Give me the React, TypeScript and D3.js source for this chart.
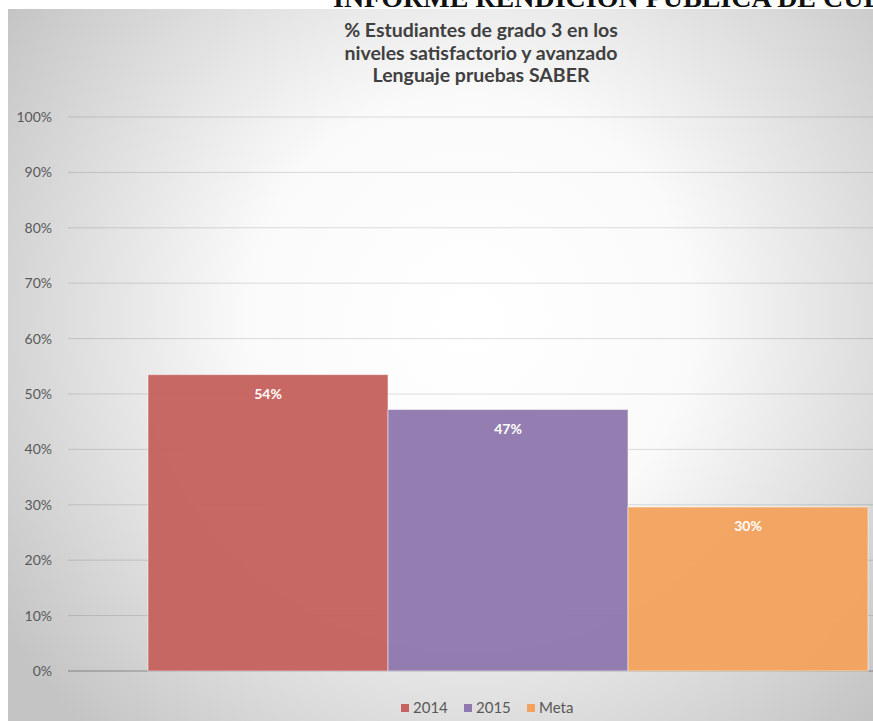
import React, { useEffect, useRef } from 'react';
import * as d3 from 'd3';

const series = ['2014', '2015', 'Meta'];
const values = [53.5, 47.2, 29.6];
const colors = ['#c6625f', '#9079ae', '#f4a25e'];
const yTicks = [0, 10, 20, 30, 40, 50, 60, 70, 80, 90, 100];
const titleLines = [
    '% Estudiantes de grado 3 en los',
    'niveles satisfactorio y avanzado',
    'Lenguaje pruebas SABER',
];
const headerText = 'INFORME RENDICIÓN PÚBLICA DE CUENTAS';

const App = () => {
    const svgRef = useRef<SVGSVGElement | null>(null);

    useEffect(() => {
        const width = 873;
        const height = 721;
        const plot = { left: 68, right: 948, top: 117, bottom: 671 };
        const font = 'Lato, "Open Sans", sans-serif';

        const svg = d3.select(svgRef.current);
        svg.selectAll('*').remove();
        svg.attr('width', width).attr('height', height);

        svg.append('rect').attr('width', width).attr('height', height).attr('fill', '#fff');

        // radial background of the chart area
        const grad = svg.append('defs').append('radialGradient')
            .attr('id', 'bg')
            .attr('gradientUnits', 'userSpaceOnUse')
            .attr('cx', 470).attr('cy', 320).attr('r', 560);
        grad.append('stop').attr('offset', 0).attr('stop-color', '#ffffff');
        grad.append('stop').attr('offset', 0.4).attr('stop-color', '#fafafa');
        grad.append('stop').attr('offset', 1).attr('stop-color', '#c4c4c4');

        svg.append('rect')
            .attr('x', 8).attr('y', 9)
            .attr('width', width - 8).attr('height', height - 9)
            .attr('fill', 'url(#bg)');

        // page header, cut by the top edge as in the scan
        svg.append('text')
            .attr('x', 333).attr('y', 7)
            .attr('font-family', '"Liberation Serif", serif')
            .attr('font-weight', 'bold')
            .attr('font-size', 28)
            .attr('fill', '#111')
            .text(headerText);

        // title
        svg.append('g').selectAll('text')
            .data(titleLines)
            .enter()
            .append('text')
            .attr('x', 481)
            .attr('y', (d, i) => 37 + i * 22.5)
            .attr('text-anchor', 'middle')
            .attr('font-family', font)
            .attr('font-weight', 'bold')
            .attr('font-size', 19.5)
            .attr('fill', '#404040')
            .text(d => d);

        const y = d3.scaleLinear().domain([0, 100]).range([plot.bottom, plot.top]);
        const x0 = d3.scaleBand<string>()
            .domain([''])
            .range([plot.left, plot.right])
            .paddingInner(0)
            .paddingOuter(80 / 720);
        const x1 = d3.scaleBand<string>()
            .domain(series)
            .range([0, x0.bandwidth()])
            .padding(0);

        // gridlines
        svg.append('g').selectAll('line')
            .data(yTicks)
            .enter()
            .append('line')
            .attr('x1', plot.left).attr('x2', width)
            .attr('y1', d => y(d)).attr('y2', d => y(d))
            .attr('stroke', '#000')
            .attr('stroke-opacity', d => (d === 0 ? 0.35 : 0.13))
            .attr('stroke-width', 1);

        // tick labels
        svg.append('g').selectAll('text')
            .data(yTicks)
            .enter()
            .append('text')
            .attr('x', 52)
            .attr('y', d => y(d))
            .attr('dy', '0.35em')
            .attr('text-anchor', 'end')
            .attr('font-family', font)
            .attr('font-size', 14)
            .attr('fill', '#595959')
            .text(d => `${d}%`);

        // bars
        const gx = x0('') as number;
        svg.append('g').selectAll('rect')
            .data(values)
            .enter()
            .append('rect')
            .attr('x', (d, i) => gx + (x1(series[i]) as number))
            .attr('y', d => y(d))
            .attr('width', x1.bandwidth())
            .attr('height', d => y(0) - y(d))
            .attr('fill', (d, i) => colors[i])
            .attr('fill-opacity', 0.96)
            .attr('stroke', '#fff')
            .attr('stroke-opacity', 0.5)
            .attr('stroke-width', 1);

        // value labels
        svg.append('g').selectAll('text')
            .data(values)
            .enter()
            .append('text')
            .attr('x', (d, i) => gx + (x1(series[i]) as number) + x1.bandwidth() / 2)
            .attr('y', d => y(d) + 24)
            .attr('text-anchor', 'middle')
            .attr('font-family', font)
            .attr('font-weight', 'bold')
            .attr('font-size', 14)
            .attr('fill', '#fff')
            .text(d => `${Math.round(d)}%`);

        // legend
        const legendX = [401, 464, 527];
        const lg = svg.append('g').selectAll('g')
            .data(series)
            .enter()
            .append('g')
            .attr('transform', (d, i) => `translate(${legendX[i]},708)`);
        lg.append('rect')
            .attr('x', 0).attr('y', -4)
            .attr('width', 8).attr('height', 8)
            .attr('fill', (d, i) => colors[i]);
        lg.append('text')
            .attr('x', 12).attr('y', 0)
            .attr('dy', '0.35em')
            .attr('font-family', font)
            .attr('font-size', 15)
            .attr('fill', '#595959')
            .text(d => d);
    }, []);

    return (
        <svg ref={svgRef} style={{ position: 'absolute', left: 0, top: 0, display: 'block' }}></svg>
    );
};

export default App;
